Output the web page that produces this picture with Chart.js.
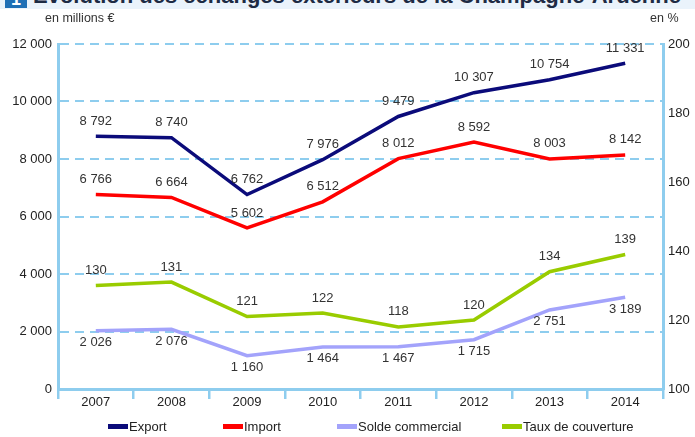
<!DOCTYPE html>
<html lang="fr">
<head>
<meta charset="utf-8">
<script src="https://cdn.jsdelivr.net/npm/chart.js@4.4.1/dist/chart.umd.min.js"></script>
<style>
  html, body { margin: 0; padding: 0; background: #fff; }
  body { width: 695px; height: 437px; overflow: hidden; position: relative; font-family: "Liberation Sans", Arial, sans-serif; }
  #band { position: absolute; left: 0; top: 0; width: 695px; height: 9px; background: #eaf3fb; overflow: hidden; z-index: 2; }
  #band .num { position: absolute; left: 5px; top: -14px; width: 22px; height: 22px; background: #1e6fb5; color: #fff; font: bold 18px "Liberation Sans", Arial; text-align: center; line-height: 26px; }
  #band .txt { position: absolute; left: 33px; top: -17px; font: bold 22px "Liberation Sans", Arial; color: #1d2b44; white-space: nowrap; }
  .unit { position: absolute; top: 11px; font-size: 12.5px; color: #333; z-index: 2; }
  #wrap { position: absolute; left: 0; top: 0; width: 695px; height: 437px; }
  #legend { position: absolute; left: 108px; top: 419px; display: grid; grid-template-columns: 115px 114px 165px auto; font-size: 13px; color: #222; z-index: 2; }
  #legend .item { display: flex; align-items: center; white-space: nowrap; }
  #legend .box { width: 20px; height: 5px; margin-right: 1px; }
</style>
</head>
<body>
<div id="band"><div class="num">1</div><div class="txt">Évolution des échanges extérieurs de la Champagne-Ardenne</div></div>
<div class="unit" style="left:45px">en millions €</div>
<div class="unit" style="left:650px">en %</div>
<div id="wrap"><canvas id="chart" width="695" height="437"></canvas></div>
<div id="legend"></div>
<script>
// données
const years = ['2007', '2008', '2009', '2010', '2011', '2012', '2013', '2014'];
const exportVals = [8792, 8740, 6762, 7976, 9479, 10307, 10754, 11331];
const importVals = [6766, 6664, 5602, 6512, 8012, 8592, 8003, 8142];
const soldeVals = [2026, 2076, 1160, 1464, 1467, 1715, 2751, 3189];
const tauxVals = [130, 131, 121, 122, 118, 120, 134, 139];
const leftTicks = [0, 2000, 4000, 6000, 8000, 10000, 12000];
const rightTicks = [100, 120, 140, 160, 180, 200];

const axisBlue = '#8ecdee';
const tickFont = { size: 13, family: '"Liberation Sans", Arial' };
const fmt = v => String(v).replace(/\B(?=(\d{3})+(?!\d))/g, ' ');

// étiquettes de valeurs (au-dessus ou au-dessous du point)
const valueLabels = {
    id: 'valueLabels',
    afterDatasetsDraw(chart) {
        const ctx = chart.ctx;
        ctx.save();
        ctx.font = '13px "Liberation Sans", Arial';
        ctx.fillStyle = '#333';
        ctx.textAlign = 'center';
        ctx.textBaseline = 'middle';
        chart.data.datasets.forEach((ds, i) => {
            const meta = chart.getDatasetMeta(i);
            meta.data.forEach((pt, j) => {
                const dy = ds.labelBelow ? 12 : -15;
                ctx.fillText(fmt(ds.data[j]), pt.x, pt.y + dy);
            });
        });
        ctx.restore();
    }
};

// légende html construite à partir des séries
const htmlLegend = {
    id: 'htmlLegend',
    afterUpdate(chart) {
        const box = document.getElementById('legend');
        box.innerHTML = '';
        chart.data.datasets.forEach(ds => {
            const item = document.createElement('div');
            item.className = 'item';
            item.innerHTML = `<span class="box" style="background:${ds.borderColor}"></span>${ds.label}`;
            box.appendChild(item);
        });
    }
};

const line = (label, data, color, extra) => Object.assign({
    label, data,
    borderColor: color, backgroundColor: color,
    borderWidth: 3.5, pointRadius: 0, tension: 0,
    borderJoinStyle: 'miter', yAxisID: 'y'
}, extra || {});

new Chart(document.getElementById('chart'), {
    type: 'line',
    data: {
        labels: years,
        datasets: [
            line('Export', exportVals, '#0b0b7a'),
            line('Import', importVals, '#ff0000'),
            line('Solde commercial', soldeVals, '#a3a3fb', { labelBelow: true }),
            line('Taux de couverture', tauxVals, '#99cc00', { yAxisID: 'y1' })
        ]
    },
    options: {
        responsive: false,
        animation: false,
        layout: { padding: { top: 44, left: 0, right: 0, bottom: 26 } },
        plugins: {
            tooltip: { enabled: false },
            legend: { display: false }
        },
        scales: {
            x: {
                offset: true,
                afterFit: s => { s.height = 22; },
                grid: { offset: true, drawOnChartArea: false, color: axisBlue, lineWidth: 2.5, tickLength: 10 },
                border: { color: axisBlue, width: 3 },
                ticks: { color: '#222', padding: -4, font: tickFont }
            },
            y: {
                position: 'left',
                min: 0, max: 12000,
                afterBuildTicks: s => { s.ticks = leftTicks.map(v => ({ value: v })); },
                afterFit: s => { s.width = 58; },
                grid: { color: axisBlue, lineWidth: 2, drawTicks: false },
                border: { color: axisBlue, width: 3, dash: [9, 6] },
                ticks: { color: '#222', padding: 6, callback: v => fmt(v), font: tickFont }
            },
            y1: {
                position: 'right',
                min: 100, max: 200,
                afterBuildTicks: s => { s.ticks = rightTicks.map(v => ({ value: v })); },
                afterFit: s => { s.width = 32; },
                grid: { drawOnChartArea: false, drawTicks: false },
                border: { color: axisBlue, width: 3 },
                ticks: { color: '#222', padding: 5, font: tickFont }
            }
        }
    },
    plugins: [valueLabels, htmlLegend]
});
</script>
</body>
</html>
